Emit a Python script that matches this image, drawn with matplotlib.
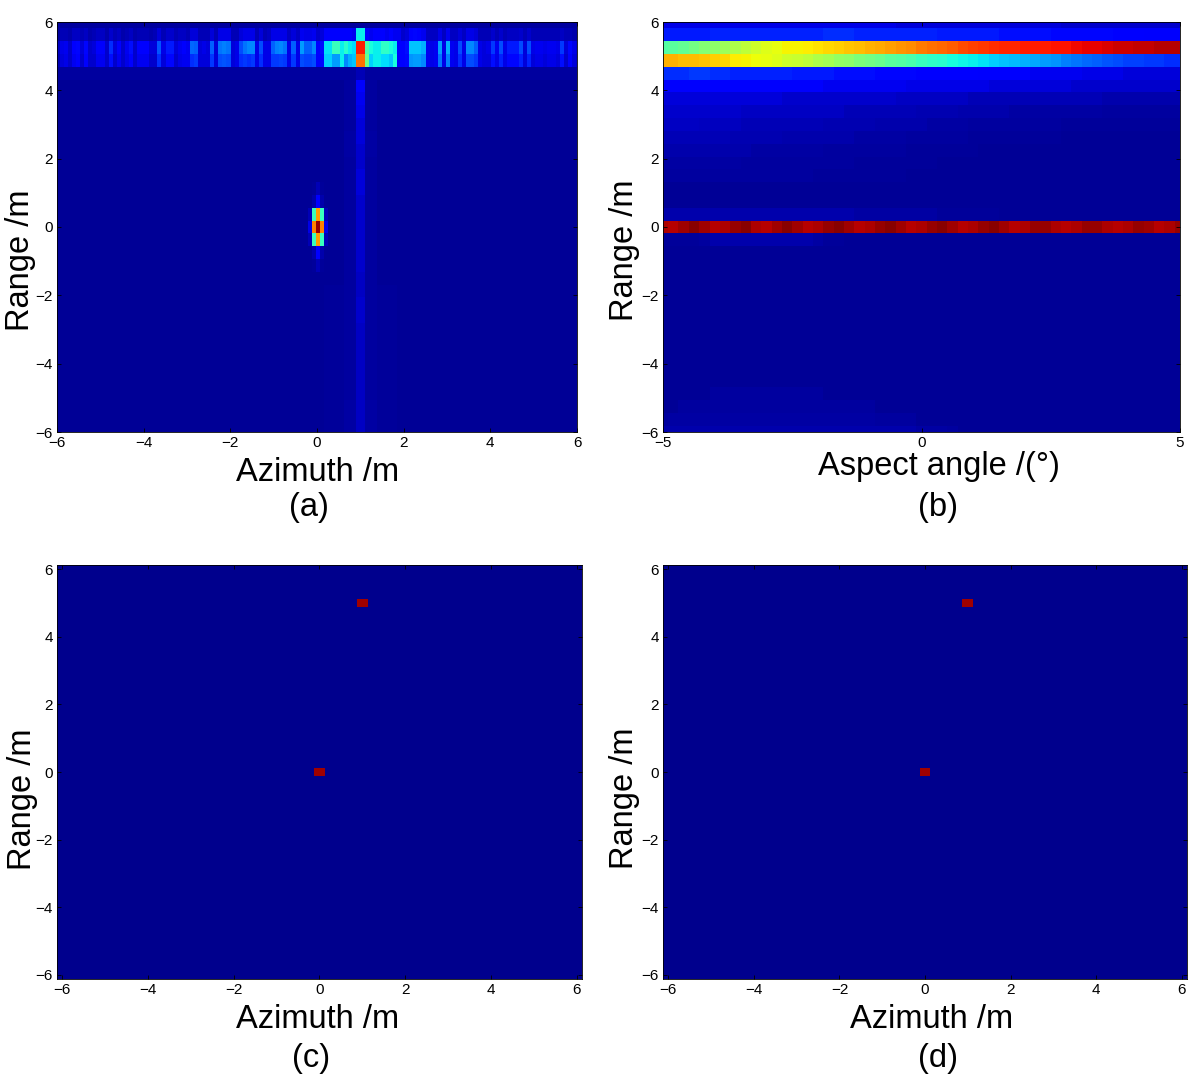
import numpy as np
import matplotlib
matplotlib.use('Agg')
import matplotlib.pyplot as plt

plt.rcParams['font.family']=['Liberation Sans','DejaVu Sans']

W,H=1200,1079

# panel (a), rows of the band near 5 m, 129 azimuth cells
a_row_5625=[.03,.05,.05,.04,.06,.06,.05,.06,.04,.05,
.06,.06,.04,.07,.05,.06,.04,.05,.06,.04,
.05,.05,.05,.04,.05,.08,.05,.07,.07,.05,
.06,.06,.05,.08,.08,.05,.05,.05,.08,.05,
.09,.09,.09,.05,.05,.08,.09,.09,.09,.05,
.08,.05,.06,.09,.09,.09,.09,.06,.08,.06,
.10,.09,.09,.10,.07,.08,.11,.11,.11,.11,
.11,.11,.11,.10,.36,.36,.11,.10,.11,.11,
.12,.10,.12,.10,.10,.07,.08,.12,.13,.12,
.10,.06,.06,.06,.09,.06,.10,.06,.06,.08,
.06,.09,.09,.08,.05,.05,.05,.07,.05,.07,
.05,.06,.06,.06,.07,.05,.07,.05,.05,.05,
.05,.05,.05,.05,.06,.05,.05,.04,.03]
a_row_525=[.06,.09,.10,.07,.12,.13,.08,.13,.07,.08,
.11,.11,.07,.17,.08,.12,.07,.10,.14,.07,
.12,.12,.12,.08,.08,.21,.09,.15,.15,.08,
.10,.11,.10,.23,.22,.08,.09,.08,.22,.08,
.24,.25,.24,.08,.09,.20,.24,.26,.26,.09,
.20,.09,.09,.22,.25,.26,.24,.09,.22,.09,
.28,.22,.22,.26,.12,.14,.35,.35,.42,.42,
.36,.40,.36,.34,.88,.88,.44,.38,.36,.36,
.41,.41,.38,.36,.12,.12,.14,.32,.32,.32,
.30,.10,.09,.10,.28,.09,.30,.10,.09,.20,
.09,.26,.26,.22,.09,.08,.09,.18,.10,.20,
.09,.15,.15,.15,.20,.08,.20,.09,.10,.10,
.09,.10,.10,.09,.18,.08,.13,.09,.07]
a_row_4875=[.05,.08,.09,.07,.10,.12,.07,.11,.07,.07,
.10,.10,.07,.14,.07,.10,.07,.09,.12,.07,
.10,.10,.10,.07,.07,.17,.08,.13,.13,.07,
.09,.10,.10,.17,.18,.08,.08,.08,.18,.08,
.20,.21,.20,.08,.09,.17,.18,.17,.18,.09,
.17,.09,.09,.18,.18,.19,.18,.09,.18,.09,
.20,.19,.19,.20,.12,.13,.33,.33,.28,.28,
.36,.26,.30,.32,.79,.79,.48,.33,.36,.36,
.34,.34,.32,.38,.12,.12,.13,.27,.28,.28,
.26,.10,.09,.10,.24,.09,.25,.10,.09,.17,
.09,.20,.20,.18,.09,.08,.08,.14,.09,.16,
.09,.13,.13,.13,.16,.08,.16,.08,.09,.09,
.08,.09,.09,.08,.14,.07,.11,.08,.06]
# ridge under the far target, from 4.125 m down to -6 m
a_ridge_mid=[.11,.10,.09,.08,.08,.07,.07,.08,.08,.07,.07,.07,.07,.07,.07,.06,.06,.07,.07,.06,.06,.06,.06,.06,.06,.06,.06,.06]
a_ridge_side=[.03,.03,.03,.03,.035,.035,.03,.03,.03,.03,.03,.03,.03,.03,.03,.03,.03,.03,.03,.03,.03,.03,.03,.03,.03,.035,.035,.035]
a_ridge_far=[.022,.022,.022,.022,.022,.022,.022,.022,.022,.022,.022,.022,.022,.022,.022,.022,.025,.025,.025,.025,.025,.025,.025,.025,.025,.025,.025,.025]
# near target, rows 1.125 m to -1.125 m, cells at azimuth -0.19 .. 0.19
a_target=[[.02,.025,.05,.025,.02],
[.02,.04,.11,.04,.02],
[.05,.42,.74,.42,.05],
[.09,.77,.98,.77,.09],
[.05,.42,.74,.42,.05],
[.02,.04,.11,.04,.02],
[.02,.025,.05,.025,.02]]

# panel (b), 51 aspect cells
b_row_6=[.09,.09,.09,.09,.09,.09,.09,.09,.09,.09,.09,.09,.09,.09,.09,.09,.09,.09,.09,.09,.09,.09,.09,.08,.08,.08,.08,.08,.08,.08,.08,.08,.08,.08,.08,.08,.08,.08,.08,.07,.07,.07,.07,.07,.07,.07,.07,.07,.07,.07,.07]
b_row_5625=[.15,.15,.15,.15,.15,.16,.16,.16,.16,.16,.16,.16,.16,.16,.16,.16,.17,.17,.17,.16,.16,.16,.16,.16,.16,.16,.16,.15,.15,.15,.15,.15,.15,.14,.14,.14,.14,.14,.13,.13,.13,.13,.13,.13,.12,.12,.12,.11,.11,.11,.11]
b_row_525=[.45,.46,.47,.49,.51,.52,.54,.56,.58,.60,.62,.63,.65,.65,.66,.67,.68,.69,.70,.71,.72,.73,.74,.75,.76,.78,.79,.80,.81,.83,.84,.85,.86,.87,.87,.88,.88,.88,.89,.89,.90,.91,.91,.92,.93,.93,.94,.94,.95,.95,.95]
b_row_4875=[.72,.72,.71,.71,.70,.69,.68,.66,.65,.64,.63,.62,.60,.59,.58,.56,.55,.53,.52,.50,.49,.48,.46,.45,.44,.42,.41,.40,.38,.37,.36,.35,.33,.32,.31,.30,.29,.28,.27,.25,.24,.23,.22,.21,.20,.19,.19,.18,.18,.17,.17]
b_row_45=[.17,.17,.17,.18,.18,.17,.17,.16,.16,.16,.16,.16,.16,.15,.15,.15,.15,.14,.14,.14,.14,.13,.13,.13,.13,.12,.12,.12,.12,.12,.12,.11,.11,.11,.11,.11,.10,.10,.10,.10,.10,.09,.09,.09,.09,.08,.08,.08,.08,.08,.08]
b_row_4125=[.11,.11,.11,.11,.11,.11,.11,.11,.11,.11,.11,.11,.11,.11,.11,.11,.10,.10,.10,.10,.10,.10,.10,.10,.09,.09,.09,.09,.09,.09,.09,.09,.08,.08,.08,.08,.08,.08,.08,.08,.07,.07,.07,.07,.07,.07,.07,.07,.07,.07,.07]
b_row_375=[.08,.08,.08,.08,.08,.08,.08,.08,.08,.08,.08,.08,.07,.07,.07,.07,.07,.07,.07,.07,.07,.07,.07,.06,.06,.06,.06,.06,.06,.06,.05,.05,.05,.05,.05,.05,.05,.05,.05,.05,.05,.05,.05,.04,.04,.04,.04,.04,.04,.04,.04]
b_row_3375=[.07,.07,.07,.07,.07,.07,.07,.07,.06,.06,.06,.06,.06,.06,.06,.06,.06,.06,.05,.05,.05,.05,.05,.05,.05,.045,.045,.045,.045,.04,.04,.04,.04,.04,.035,.035,.035,.035,.035,.035,.035,.035,.035,.03,.03,.03,.03,.03,.03,.03,.03]
b_row_3=[.06,.06,.06,.06,.055,.055,.055,.055,.05,.05,.05,.05,.05,.05,.05,.05,.045,.045,.045,.045,.045,.04,.04,.04,.04,.04,.035,.035,.035,.035,.03,.03,.03,.03,.03,.03,.03,.03,.03,.025,.025,.025,.025,.025,.025,.025,.025,.025,.025,.025,.025]
b_row_2625=[.05,.05,.05,.05,.05,.05,.05,.045,.045,.045,.045,.045,.04,.04,.04,.04,.04,.04,.04,.035,.035,.035,.035,.035,.03,.03,.03,.03,.03,.03,.025,.025,.025,.025,.025,.025,.025,.025,.025,.02,.02,.02,.02,.02,.02,.02,.02,.02,.02,.02,.02]
b_row_225=[.04,.04,.04,.04,.04,.04,.04,.04,.04,.035,.035,.035,.035,.035,.035,.035,.03,.03,.03,.03,.03,.03,.03,.03,.025,.025,.025,.025,.025,.025,.025,.02,.02,.02,.02,.02,.02,.02,.02,.02,.02,.02,.02,.02,.02,.02,.02,.02,.02,.02,.02]
b_row_1875=[.035,.035,.035,.035,.035,.035,.035,.035,.03,.03,.03,.03,.03,.03,.03,.03,.03,.03,.03,.025,.025,.025,.025,.025,.025,.025,.025,.02,.02,.02,.02,.02,.02,.02,.02,.02,.02,.02,.02,.02,.02,.02,.02,.02,.02,.02,.02,.02,.02,.02,.02]
b_row_15=[.03,.03,.03,.03,.03,.03,.03,.03,.03,.03,.03,.03,.03,.03,.03,.025,.025,.025,.025,.025,.025,.025,.025,.025,.02,.02,.02,.02,.02,.02,.02,.02,.02,.02,.02,.02,.02,.02,.02,.02,.02,.02,.02,.02,.02,.02,.02,.02,.02,.02,.02]
b_row_0=[.96,.95,.97,.99,.97,.95,.96,.98,.99,.96,.95,.97,.99,.97,.95,.96,.98,.99,.97,.95,.96,.98,.99,.97,.95,.96,.98,.99,.97,.95,.96,.98,.99,.97,.95,.96,.98,.98,.96,.95,.96,.98,.98,.96,.95,.96,.98,.97,.95,.96,.98]
b_row_p0375=[.04,.04,.04,.04,.04,.04,.04,.04,.04,.04,.04,.04,.04,.04,.04,.04,.04,.04,.04,.035,.035,.035,.035,.035,.035,.035,.035,.025,.025,.025,.025,.025,.025,.02,.02,.02,.02,.02,.02,.02,.02,.02,.02,.02,.02,.02,.02,.02,.02,.02,.02]
b_row_m0375=[.025,.025,.025,.025,.03,.04,.04,.04,.04,.04,.04,.04,.04,.04,.04,.035,.025,.025,.02,.02,.02,.02,.02,.02,.02,.02,.02,.02,.02,.02,.02,.02,.02,.02,.02,.02,.02,.02,.02,.02,.02,.02,.02,.02,.02,.02,.02,.02,.02,.02,.02]
b_row_m4875=[.02,.02,.02,.02,.02,.03,.03,.03,.03,.03,.03,.03,.03,.03,.03,.03,.02,.02,.02,.02,.02,.02,.02,.02,.02,.02,.02,.02,.02,.02,.02,.02,.02,.02,.02,.02,.02,.02,.02,.02,.02,.02,.02,.02,.02,.02,.02,.02,.02,.02,.02]
b_row_m525=[.02,.02,.03,.03,.03,.03,.03,.03,.03,.03,.03,.03,.03,.03,.03,.03,.03,.03,.03,.03,.03,.02,.02,.02,.02,.02,.02,.02,.02,.02,.02,.02,.02,.02,.02,.02,.02,.02,.02,.02,.02,.02,.02,.02,.02,.02,.02,.02,.02,.02,.02]
b_row_m5625=[.03,.035,.035,.035,.035,.035,.035,.035,.035,.035,.035,.035,.035,.035,.035,.035,.035,.035,.035,.035,.035,.03,.03,.03,.03,.02,.02,.02,.02,.02,.02,.02,.02,.02,.02,.02,.02,.02,.02,.02,.02,.02,.02,.02,.02,.02,.02,.02,.02,.02,.02]
b_row_m6=[.04,.04,.04,.04,.04,.04,.04,.04,.04,.04,.04,.04,.04,.04,.04,.04,.04,.04,.04,.04,.04,.04,.04,.04,.04,.035,.035,.035,.03,.02,.02,.02,.02,.02,.02,.02,.02,.02,.02,.02,.02,.02,.02,.02,.02,.02,.02,.02,.02,.02,.02]

# panels (c) and (d), scatterers as (azimuth, range)
scatterers=[(0.0,0.0),(1.0,5.0)]
scatter_val=[.97,.97]

xticks=[-6,-4,-2,0,2,4,6]
bticks=[-5,0,5]
yticks=[-6,-4,-2,0,2,4,6]

def rng_row(r):
    return int(round(r/0.375))+16

def build_a():
    img=np.full((33,129),.02)
    img[rng_row(6.0)]=.03
    img[rng_row(5.625)]=a_row_5625
    img[rng_row(5.25)]=a_row_525
    img[rng_row(4.875)]=a_row_4875
    img[rng_row(4.5)]=.03
    img[rng_row(4.5),[74,75]]=.05
    for n in range(len(a_ridge_mid)):
        row=rng_row(4.125)-n
        img[row,[66,67,68,69,70,79,80,81,82,83]]=a_ridge_far[n]
        img[row,[71,72,73,76,77,78]]=a_ridge_side[n]
        img[row,[74,75]]=a_ridge_mid[n]
    t=np.array(a_target)
    img[13:20,62:67]=t[::-1]
    return img

def build_b():
    img=np.full((33,51),.02)
    rows={6.0:b_row_6,5.625:b_row_5625,5.25:b_row_525,4.875:b_row_4875,4.5:b_row_45,
          4.125:b_row_4125,3.75:b_row_375,3.375:b_row_3375,3.0:b_row_3,2.625:b_row_2625,
          2.25:b_row_225,1.875:b_row_1875,1.5:b_row_15,
          0.375:b_row_p0375,0.0:b_row_0,-0.375:b_row_m0375,
          -4.875:b_row_m4875,-5.25:b_row_m525,-5.625:b_row_m5625,-6.0:b_row_m6}
    for r in rows:
        img[rng_row(r)]=rows[r]
    return img

def build_sparse():
    img=np.full((49,49),.012)
    for (az,r),v in zip(scatterers,scatter_val):
        img[int(round(r/0.25))+24,int(round(az/0.25))+24]=v
    return img

def panel(box,img,extent,xlim,ylim,xt):
    l,t,r,b=box
    ax=plt.axes([l/W,1-b/H,(r-l)/W,(b-t)/H])
    ax.imshow(img,cmap='jet',vmin=0,vmax=1,origin='lower',aspect='auto',extent=extent,interpolation='nearest')
    ax.set_xlim(xlim)
    ax.set_ylim(ylim)
    ax.set_xticks(xt)
    ax.set_yticks(yticks)
    ax.tick_params(direction='in',length=3,width=.6,labelsize=11,pad=3,top=True,right=True)
    for s in ax.spines.values():
        s.set_linewidth(.6)
    return ax

def put(x,y,s,size=23.5,rot=0):
    plt.figtext(x/W,1-y/H,s,fontsize=size,ha='center',va='center',rotation=rot)

def main():
    fig=plt.figure(figsize=(W/100,H/100),dpi=100)
    ext_a=[-6.027,6.067,-6.1875,6.1875]
    ext_b=[-5.1,5.1,-6.1875,6.1875]
    ext_c=[-6.125,6.125,-6.125,6.125]
    panel((57,22,577,432),build_a(),ext_a,(-6,6),(-6,6),xticks)
    panel((663,22,1180,432),build_b(),ext_b,(-5,5),(-6,6),bticks)
    panel((57,565,582,979),build_sparse(),ext_c,(-6.125,6.125),(-6.125,6.125),xticks)
    panel((663,565,1187,979),build_sparse(),ext_c,(-6.125,6.125),(-6.125,6.125),xticks)
    put(318,472,'Azimuth /m')
    put(309,507,'(a)')
    put(939,466,'Aspect angle /(\u00b0)')
    put(938,507,'(b)')
    put(318,1020,'Azimuth /m')
    put(311,1058,'(c)')
    put(932,1019,'Azimuth /m')
    put(938,1058,'(d)')
    put(21,260,'Range /m',rot=90)
    put(624,250,'Range /m',rot=90)
    put(22,799,'Range /m',rot=90)
    put(624,798,'Range /m',rot=90)
    fig.savefig('out.png',dpi=100)

if __name__=='__main__':
    main()
